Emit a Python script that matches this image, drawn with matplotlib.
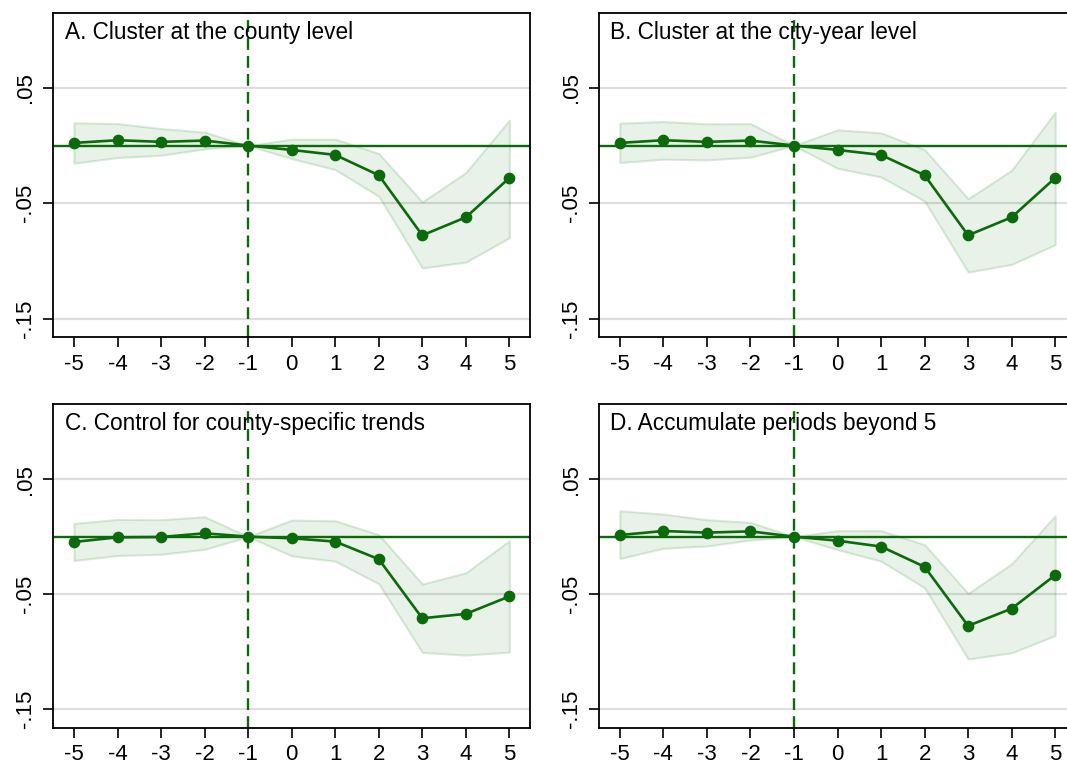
import matplotlib
matplotlib.use("Agg")
import matplotlib.pyplot as plt
import numpy as np

plt.rcParams['font.family'] = ['Liberation Sans', 'DejaVu Sans']

periods = [-5, -4, -3, -2, -1, 0, 1, 2, 3, 4, 5]
titles = ["A. Cluster at the county level",
          "B. Cluster at the city-year level",
          "C. Control for county-specific trends",
          "D. Accumulate periods beyond 5"]

coef_a = [0.0023, 0.0046, 0.0032, 0.0043, 0.0, -0.0038, -0.0081, -0.0257, -0.0777, -0.0621, -0.0280]
upper_a = [0.0197, 0.0190, 0.0147, 0.0116, 0.0, 0.0055, 0.0055, -0.0069, -0.0488, -0.0234, 0.0220]
lower_a = [-0.0153, -0.0104, -0.0084, -0.0029, 0.0, -0.0113, -0.0208, -0.0439, -0.1060, -0.1009, -0.0798]

coef_b = [0.0023, 0.0046, 0.0032, 0.0043, 0.0, -0.0038, -0.0081, -0.0257, -0.0777, -0.0621, -0.0280]
upper_b = [0.0194, 0.0208, 0.0188, 0.0190, 0.0, 0.0136, 0.0110, -0.0035, -0.0460, -0.0214, 0.0289]
lower_b = [-0.0147, -0.0118, -0.0124, -0.0101, 0.0, -0.0197, -0.0272, -0.0480, -0.1095, -0.1029, -0.0858]

coef_c = [-0.0046, -0.0006, -0.0003, 0.0029, 0.0, -0.0014, -0.0043, -0.0196, -0.0709, -0.0671, -0.0519]
upper_c = [0.0115, 0.0150, 0.0147, 0.0173, 0.0, 0.0144, 0.0138, 0.0017, -0.0412, -0.0314, -0.0035]
lower_c = [-0.0207, -0.0164, -0.0153, -0.0110, 0.0, -0.0167, -0.0213, -0.0409, -0.1006, -0.1029, -0.1003]

coef_d = [0.0014, 0.0049, 0.0035, 0.0046, 0.0, -0.0035, -0.0086, -0.0262, -0.0775, -0.0625, -0.0334]
upper_d = [0.0225, 0.0196, 0.0147, 0.0124, 0.0, 0.0052, 0.0052, -0.0069, -0.0493, -0.0236, 0.0182]
lower_d = [-0.0190, -0.0101, -0.0081, -0.0029, 0.0, -0.0112, -0.0213, -0.0444, -0.1063, -0.1009, -0.0859]

ytick_vals = [0.05, -0.05, -0.15]
ytick_labels = [".05", "-.05", "-.15"]

panels = [(titles[0], coef_a, upper_a, lower_a),
          (titles[1], coef_b, upper_b, lower_b),
          (titles[2], coef_c, upper_c, lower_c),
          (titles[3], coef_d, upper_d, lower_d)]

green = "#0b6b0b"
fig = plt.figure(figsize=(10.67, 7.67), dpi=100)
W, H = 1067.0, 767.0
positions = [
    (52.7 / W, 1 - 337.3 / H, 477.6 / W, 324.6 / H),
    (598.5 / W, 1 - 337.3 / H, 477.6 / W, 324.6 / H),
    (52.7 / W, 1 - 727.7 / H, 477.6 / W, 323.4 / H),
    (598.5 / W, 1 - 727.7 / H, 477.6 / W, 323.4 / H),
]

for (title, coef, up, lo), pos in zip(panels, positions):
    ax = fig.add_axes(pos)
    ax.set_xlim(-5.49, 5.48)
    ax.set_ylim(-0.166, 0.115)
    for yv in ytick_vals:
        ax.axhline(yv, color="#dedede", lw=1.6, zorder=0)
    ax.fill_between(periods, lo, up, facecolor=(0.0, 0.45, 0.0, 0.09),
                    edgecolor=(0.0, 0.45, 0.0, 0.14), lw=1.5, zorder=1)
    ax.axhline(0, color=green, lw=1.7, zorder=2)
    ax.axvline(-1, color=green, lw=1.7, ls=(0, (5, 2.6)), zorder=2)
    ax.plot(periods, coef, color=green, lw=1.9, marker="o", ms=7.4, zorder=3)
    ax.set_xticks(periods)
    ax.set_xticklabels([str(p) for p in periods])
    ax.set_yticks(ytick_vals)
    ax.set_yticklabels(ytick_labels, rotation=90, va="center")
    ax.tick_params(axis="both", direction="out", length=7.5, width=1.2,
                   labelsize=16, pad=4.5)
    for sp in ax.spines.values():
        sp.set_linewidth(1.3)
    ax.text(0.025, 0.975, title, transform=ax.transAxes, ha="left", va="top",
            fontsize=16.3)

fig.savefig("out.png", dpi=100)
